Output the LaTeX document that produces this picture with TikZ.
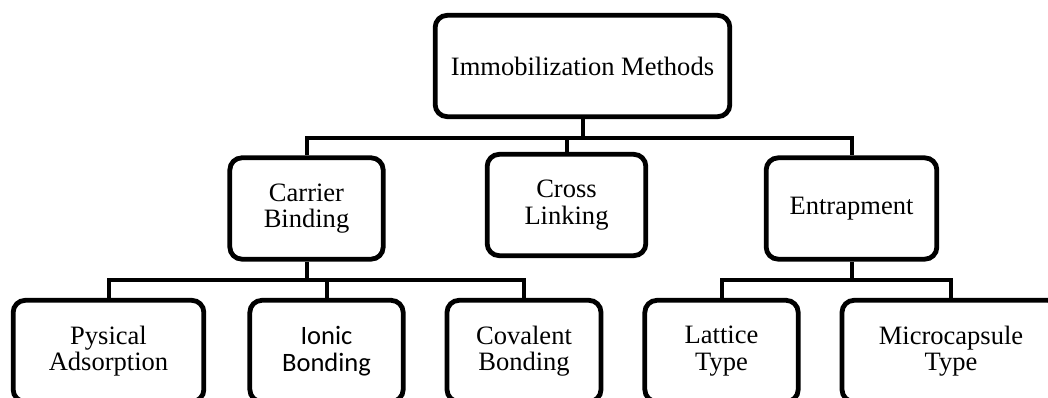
\documentclass[tikz,border=0pt]{standalone}
\usepackage{fontspec}
\setmainfont{Liberation Serif}
\newfontfamily\calibrifont{Carlito}
\begin{document}
\begin{tikzpicture}[x=0.75pt,y=-0.75pt,
        box/.style={draw, line width=3.6pt, rounded corners=9pt, align=center, inner sep=0pt,
            minimum height=76pt, font=\fontsize{19.9}{20}\selectfont},
        link/.style={line width=3pt}]

        \clip (0,0) rectangle (1048,398);

        % top level
        \node[box, minimum width=221pt] (methods) at (582.5,66) {Immobilization Methods};

        % second level
        \node[box, minimum width=115pt] (carrier) at (306.5,208.5) {Carrier\\Binding};
        \node[box, minimum width=119pt] (cross) at (566.5,205) {Cross\\Linking};
        \node[box, minimum width=128pt] (entrap) at (851.5,208.5) {Entrapment};

        % third level
        \node[box, minimum width=143pt] (pysical) at (108.5,351) {Pysical\\Adsorption};
        \node[box, minimum width=115pt, font=\fontsize{19.9}{20}\calibrifont] (ionic) at (326.5,351) {Ionic\\Bonding};
        \node[box, minimum width=115.5pt] (covalent) at (524,351) {Covalent\\Bonding};
        \node[box, minimum width=115pt] (lattice) at (721.5,351) {Lattice\\Type};
        \node[box, minimum width=163.5pt] (micro) at (951,351) {Microcapsule\\Type};

        % connectors
        \coordinate (topbar) at (582.5,138);
        \coordinate (carrierbar) at (306.5,280);
        \coordinate (entrapbar) at (851.5,280);

        \draw[link] (methods) -- (topbar);
        \draw[link] (topbar) -| (carrier);
        \draw[link] (topbar) -| (cross);
        \draw[link] (topbar) -| (entrap);

        \draw[link] (carrier) -- (carrierbar);
        \draw[link] (carrierbar) -| (pysical);
        \draw[link] (carrierbar) -| (ionic);
        \draw[link] (carrierbar) -| (covalent);

        \draw[link] (entrap) -- (entrapbar);
        \draw[link] (entrapbar) -| (lattice);
        \draw[link] (entrapbar) -| (micro);
    \end{tikzpicture}
\end{document}
